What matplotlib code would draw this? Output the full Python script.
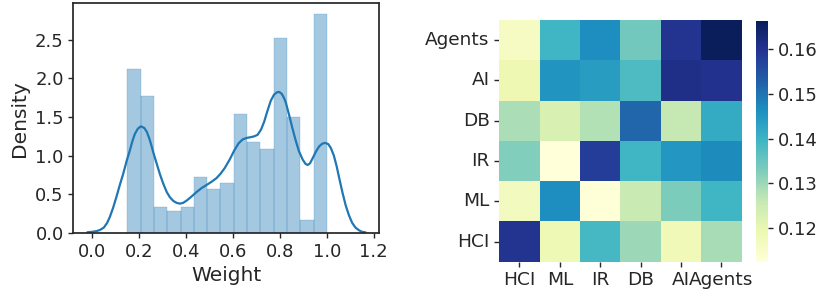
import matplotlib
matplotlib.use("Agg")
import matplotlib.pyplot as plt
import seaborn as sns
import numpy as np

# ---------------- histogram of weights (density) ----------------
bin_edges = [0.15, 0.2067, 0.2633, 0.32, 0.3767, 0.4333, 0.49, 0.5467, 0.6033,
             0.66, 0.7167, 0.7733, 0.83, 0.8867, 0.9433, 1.0]
hist_density = [2.12, 1.77, 0.34, 0.28, 0.34, 0.73, 0.57, 0.65, 1.54,
                1.18, 1.09, 2.52, 1.50, 0.17, 2.83]

# kde curve
kde_x = [-0.02, 0.0, 0.02, 0.034, 0.05, 0.064, 0.076, 0.09, 0.104, 0.118, 0.133,
         0.147, 0.161, 0.172, 0.182, 0.195, 0.2076, 0.222, 0.233, 0.243, 0.252,
         0.261, 0.275, 0.289, 0.303, 0.318, 0.332, 0.346, 0.36, 0.374, 0.388,
         0.403, 0.423, 0.445, 0.466, 0.487, 0.51, 0.53, 0.548, 0.565, 0.587,
         0.606, 0.624, 0.641, 0.658, 0.676, 0.69, 0.705, 0.72, 0.733, 0.747,
         0.761, 0.775, 0.787, 0.797, 0.808, 0.817, 0.825, 0.839, 0.853, 0.867,
         0.881, 0.897, 0.909, 0.918, 0.928, 0.94, 0.953, 0.967, 0.98, 0.993,
         1.006, 1.017, 1.03, 1.042, 1.052, 1.066, 1.08, 1.094, 1.108, 1.122,
         1.137, 1.15, 1.165]
kde_y = [0.01, 0.015, 0.025, 0.04, 0.07, 0.13, 0.21, 0.33, 0.47, 0.62, 0.77,
         0.93, 1.07, 1.19, 1.28, 1.35, 1.38, 1.36, 1.31, 1.23, 1.14,
         1.04, 0.9, 0.76, 0.64, 0.53, 0.46, 0.415, 0.39, 0.38, 0.39,
         0.42, 0.47, 0.53, 0.58, 0.62, 0.665, 0.71, 0.77, 0.84, 0.955,
         1.07, 1.16, 1.21, 1.23, 1.24, 1.25, 1.27, 1.34, 1.44, 1.58,
         1.71, 1.79, 1.82, 1.825, 1.8, 1.75, 1.69, 1.53, 1.36, 1.2,
         1.06, 0.95, 0.895, 0.88, 0.9, 0.97, 1.05, 1.12, 1.155, 1.166,
         1.15, 1.1, 1.0, 0.86, 0.72, 0.53, 0.36, 0.23, 0.13, 0.07,
         0.035, 0.015, 0.008]

# ---------------- similarity heatmap ----------------
areas = ["HCI", "ML", "IR", "DB", "AI", "Agents"]
# rows in order HCI, ML, IR, DB, AI, Agents (bottom to top in the plot)
sim = [
    [0.160, 0.1185, 0.139, 0.130, 0.118, 0.129],   # HCI
    [0.117, 0.1465, 0.113, 0.1255, 0.133, 0.1395],  # ML
    [0.1327, 0.1125, 0.158, 0.1395, 0.145, 0.147],  # IR
    [0.1287, 0.123, 0.128, 0.152, 0.126, 0.1416],   # DB
    [0.119, 0.1455, 0.144, 0.138, 0.161, 0.1605],   # AI
    [0.1163, 0.1395, 0.1465, 0.134, 0.160, 0.166],  # Agents
]

sns.set_style("ticks")
plt.rcParams['font.family'] = ['DejaVu Sans']

fig = plt.figure(figsize=(8.2, 2.93), dpi=100)

# left: distplot style
ax1 = fig.add_axes([0.0896, 0.2048, 0.3732, 0.7838])
ax1.bar(bin_edges[:-1], hist_density, width=np.diff(bin_edges), align='edge',
        color='C0', alpha=0.4, edgecolor='C0', linewidth=0.35)
ax1.plot(kde_x, kde_y, color='C0', linewidth=1.6, solid_joinstyle='round')
ax1.set_xticks([0.0, 0.2, 0.4, 0.6, 0.8, 1.0, 1.2])
ax1.set_yticks([0.0, 0.5, 1.0, 1.5, 2.0, 2.5])
ax1.set_xlabel('Weight', fontsize=14.5)
ax1.set_ylabel('Density', fontsize=14.5)
ax1.tick_params(labelsize=13, length=3.5, width=1.0)
for s in ax1.spines.values():
    s.set_linewidth(1.25)

# right: heatmap
ax2 = fig.add_axes([0.6089, 0.1068, 0.2956, 0.8249])
cax = fig.add_axes([0.922, 0.1068, 0.015, 0.8225])
sns.heatmap(np.array(sim), cmap='YlGnBu', vmin=0.1125, vmax=0.1664,
            xticklabels=areas, yticklabels=areas, ax=ax2, cbar_ax=cax)
ax2.invert_yaxis()
ax2.set_yticklabels(areas, rotation=0)
ax2.set_xticklabels(areas, rotation=0)
ax2.tick_params(labelsize=13.3, length=3.5, width=1.0)
cax.set_yticks([0.12, 0.13, 0.14, 0.15, 0.16])
cax.tick_params(labelsize=13, length=3.5, width=1.0)

fig.savefig('out.png', dpi=100)
